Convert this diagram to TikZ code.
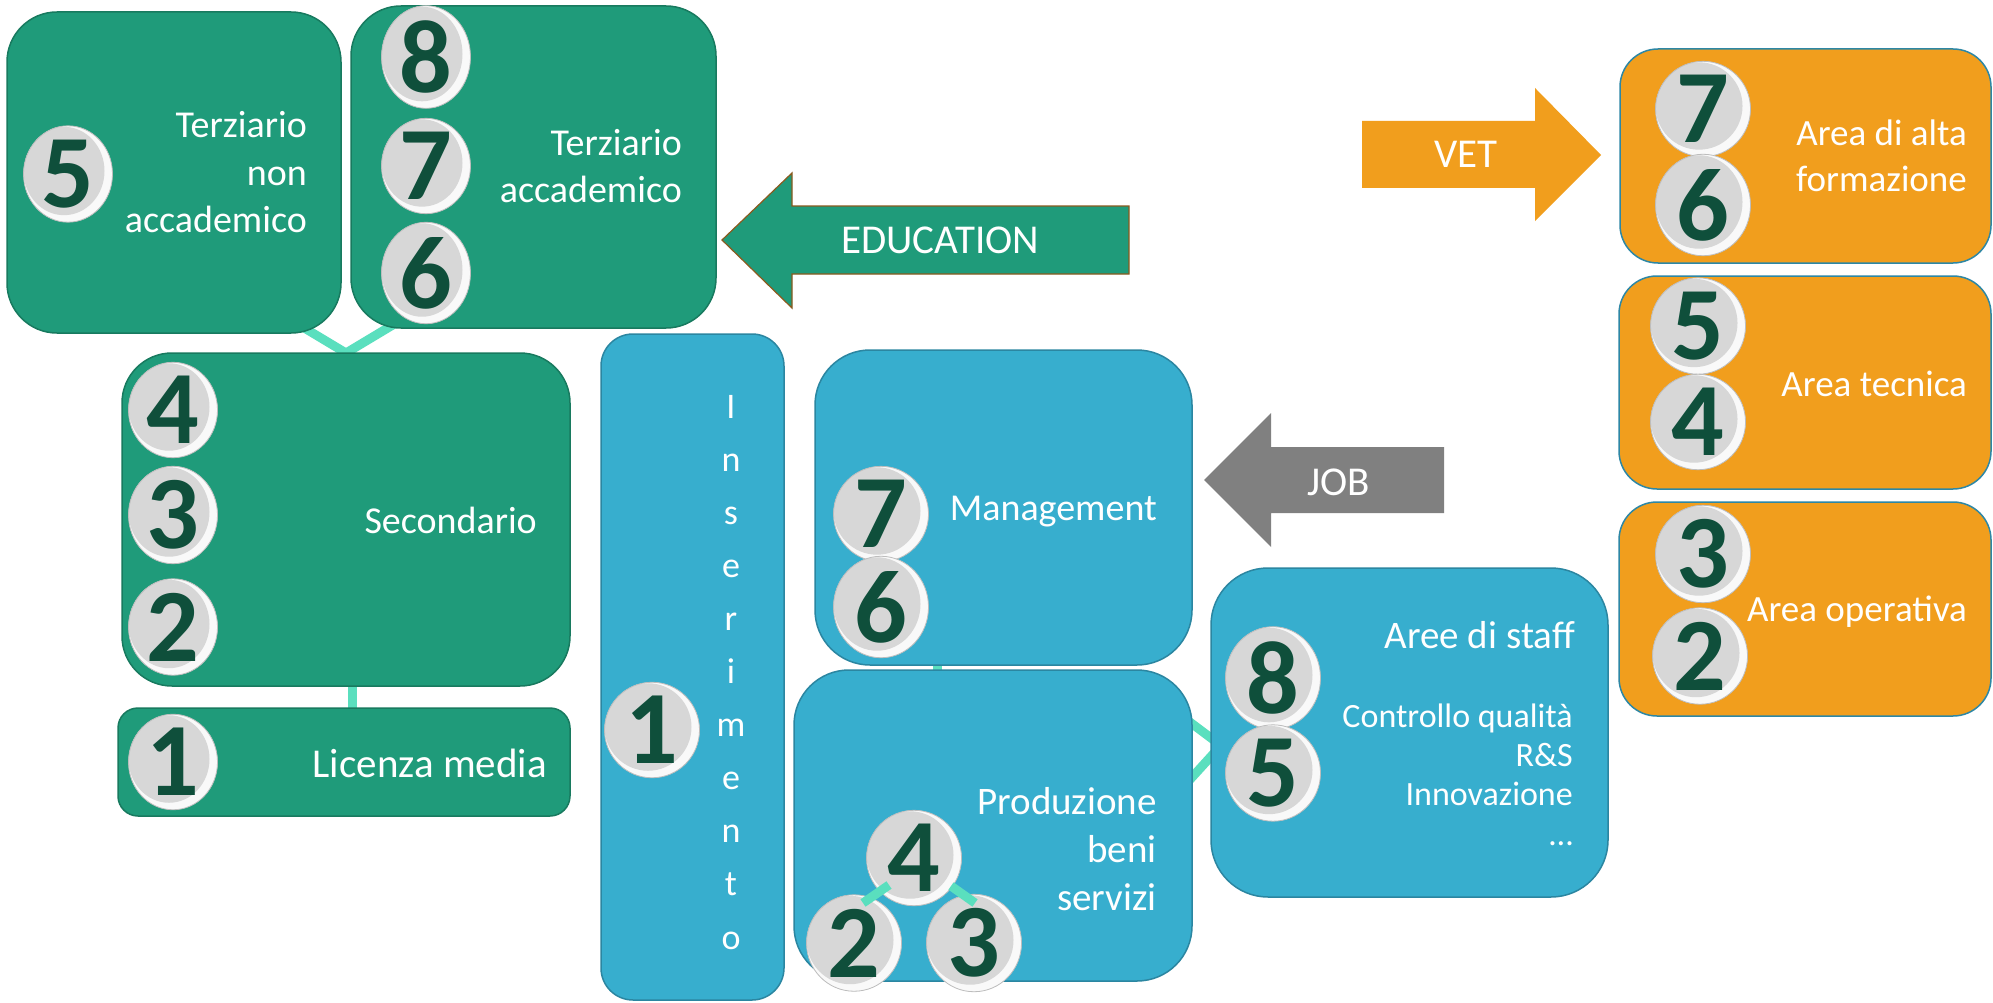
\documentclass[tikz,border=0pt]{standalone}
\usepackage{fontspec}
\setmainfont{Carlito}
\usetikzlibrary{shapes.geometric,calc}
\definecolor{gfill}{HTML}{1F9B7A}
\definecolor{gline}{HTML}{187A5F}
\definecolor{bfill}{HTML}{37AECE}
\definecolor{bline}{HTML}{2B86A1}
\definecolor{ofill}{HTML}{F19E1D}
\definecolor{oline}{HTML}{2D87A5}
\definecolor{mintc}{HTML}{5ADFBE}
\definecolor{digitc}{HTML}{0F4F3B}
\definecolor{ballfill}{HTML}{D7D7D7}
\definecolor{ballline}{HTML}{BDBDBD}
\definecolor{eduline}{HTML}{8A5A1E}
\definecolor{jobc}{HTML}{808080}
\pgfdeclarelayer{paper}
\pgfdeclarelayer{bg}
\pgfdeclarelayer{top}
\pgfsetlayers{paper,bg,main,top}
\tikzset{
  box/.style={rectangle, inner sep=0pt, outer sep=0pt, line width=1.5pt, anchor=north west},
  gbox/.style={box, fill=gfill, draw=gline},
  bbox/.style={box, fill=bfill, draw=bline},
  obox/.style={box, fill=ofill, draw=oline},
  ball/.style={ellipse, inner sep=0pt, outer sep=0pt, fill=ballfill, draw=ballline,
    line width=0.8pt, text=digitc, font=\fontsize{104}{104}\selectfont\bfseries,
    path picture={
      \fill[white!85!ballfill] (path picture bounding box.south west) rectangle (path picture bounding box.north east);
      \fill[ballfill] let \p1=(path picture bounding box.north east), \p2=(path picture bounding box.center) in
        ($(\p2)+(-4pt,3pt)$) ellipse ({\x1-\x2-4pt} and {\y1-\y2-4pt});
    }},
  ballT/.style={ball, minimum width=89pt, minimum height=94pt},
  ballW/.style={ball, minimum width=95pt, minimum height=81pt},
  lbl/.style={text=white, inner sep=0pt, align=right, anchor=base east, font=\fontsize{38}{47.5}\selectfont},
  albl/.style={text=white, inner sep=0pt, anchor=base west, font=\fontsize{41}{41}\selectfont},
  mint/.style={draw=mintc, line width=9pt},
}
\begin{document}
\begin{tikzpicture}[x=1pt, y=-1pt]
\begin{pgfonlayer}{paper}
\fill[white] (0,0) rectangle (1993,1003);
\end{pgfonlayer}
\useasboundingbox (0,0) rectangle (1993,1003);

% boxes
\node[gbox, rounded corners=50pt, minimum width=334pt, minimum height=321pt] (A) at (7,12) {};
\node[gbox, rounded corners=50pt, minimum width=365pt, minimum height=322pt] (B) at (351,6) {};
\node[gbox, rounded corners=50pt, minimum width=448pt, minimum height=333pt] (C) at (122,353) {};
\node[gbox, rounded corners=20pt, minimum width=452pt, minimum height=108pt] (D) at (118,708) {};
\node[bbox, rounded corners=32pt, minimum width=183pt, minimum height=666pt] (E) at (601,334) {};
\node[bbox, rounded corners=55pt, minimum width=377pt, minimum height=315pt] (F) at (815,350) {};
\node[bbox, rounded corners=55pt, minimum width=398pt, minimum height=311pt] (G) at (794,670) {};
\node[bbox, rounded corners=57pt, minimum width=397pt, minimum height=329pt] (H) at (1211,568) {};
\node[obox, rounded corners=38pt, minimum width=371pt, minimum height=214pt] (I) at (1620,49) {};
\node[obox, rounded corners=38pt, minimum width=372pt, minimum height=213pt] (J) at (1619,276) {};
\node[obox, rounded corners=38pt, minimum width=372pt, minimum height=214pt] (K) at (1619,502) {};

% arrows
\filldraw[fill=gfill, draw=eduline, line width=1.2pt] (722,240) -- (792,173) -- (792,206) -- (1129,206) -- (1129,274) -- (792,274) -- (792,308) -- cycle;
\fill[ofill] (1362,121) -- (1535,121) -- (1535,88) -- (1601,155) -- (1535,221) -- (1535,188) -- (1362,188) -- cycle;
\fill[jobc] (1204,480) -- (1271,413) -- (1271,447) -- (1444,447) -- (1444,513) -- (1271,513) -- (1271,547) -- cycle;
\node[albl] (tEdu) at (841,253) {EDUCATION};
\node[albl] (tVet) at (1434,168) {VET};
\node[albl] (tJob) at (1307,495) {JOB};

% balls (on the top layer)
\begin{pgfonlayer}{top}
\node[ballT] (a5) at (68,174) {5};
\node[ballT] (b8) at (426,57) {8};
\node[ballT] (b7) at (426,166) {7};
\node[ballT] (b6) at (426,273) {6};
\node[ballT] (c4) at (173,410) {4};
\node[ballT] (c3) at (173,515) {3};
\node[ballT] (c2) at (173,627) {2};
\node[ballT] (d1) at (173,762) {1};
\node[ballW] (e1) at (652,730) {1};
\node[ballW] (f7) at (881,514) {7};
\node[ballW] (f6) at (881,607) {6};
\node[ballW] (g4) at (914,858) {4};
\node[ballW] (g2) at (854,943) {2};
\node[ballW] (g3) at (974,943) {3};
\node[ballW] (h8) at (1273,678) {8};
\node[ballW] (h5) at (1273,773) {5};
\node[ballW] (i7) at (1703,109) {7};
\node[ballW] (i6) at (1703,205) {6};
\node[ballW] (j5) at (1698,326) {5};
\node[ballW] (j4) at (1698,422) {4};
\node[ballW] (k3) at (1703,554) {3};
\node[ballW] (k2) at (1700,656) {2};
% tree lines inside box G, lying over the ball rims
\draw[mint] ($(g4)+(-25pt,-27pt)$) -- ($(g2)+(9pt,40pt)$);
\draw[mint] ($(g4)+(37pt,-28pt)$) -- ($(g3)+(1pt,40pt)$);
\end{pgfonlayer}

% labels (base = baseline of the last line)
\node[lbl] (tA) at (307,233) {Terziario\\non\\accademico};
\node[lbl] (tB) at (682,203) {Terziario\\accademico};
\node[lbl] (tC) at (537,533) {Secondario};
\node[lbl, font=\fontsize{41}{47}\selectfont] (tD) at (547,777) {Licenza media};
\node[text=white, inner sep=0pt, align=center, anchor=base, font=\fontsize{36}{53.1}\selectfont] (tE) at (731,949) {I\\n\\s\\e\\r\\i\\m\\e\\n\\t\\o};
\node[lbl] (tF) at (1157,520) {Management};
\node[lbl, font=\fontsize{39}{48}\selectfont] (tG) at (1157,910) {Produzione\\beni\\servizi};
\node[lbl, font=\fontsize{39}{47}\selectfont] (tH1) at (1575,648) {Aree di staff};
\node[lbl, font=\fontsize{34}{39.2}\selectfont] (tH2) at (1573,845) {Controllo qualità\\R\&S\\Innovazione\\…};
\node[lbl, font=\fontsize{37}{46}\selectfont] (tI) at (1967,192) {Area di alta\\formazione};
\node[lbl, font=\fontsize{37}{46}\selectfont] (tJ) at (1967,396) {Area tecnica};
\node[lbl, font=\fontsize{37}{46}\selectfont] (tK) at (1967,621) {Area operativa};

% connectors (behind boxes)
\begin{pgfonlayer}{bg}
\draw[mint] ($(C.north)+(-50pt,30pt)$) -- (C.north) -- ($(C.north)+(50pt,30pt)$);
\draw[mint] ([xshift=6pt]C.south) -- ([xshift=6pt]C.south |- D.north);
\draw[mint] ([xshift=-66pt]F.south) -- ([xshift=-66pt]F.south |- G.north);
\draw[mint] ($(G.east)+(-7pt,107pt)$) -- ($(H.west)+(4pt,-8.5pt)$);
\draw[mint] ($(G.east)+(-7pt,40.5pt)$) -- ($(H.west)+(4pt,-19.5pt)$);
\end{pgfonlayer}
\end{tikzpicture}
\end{document}
